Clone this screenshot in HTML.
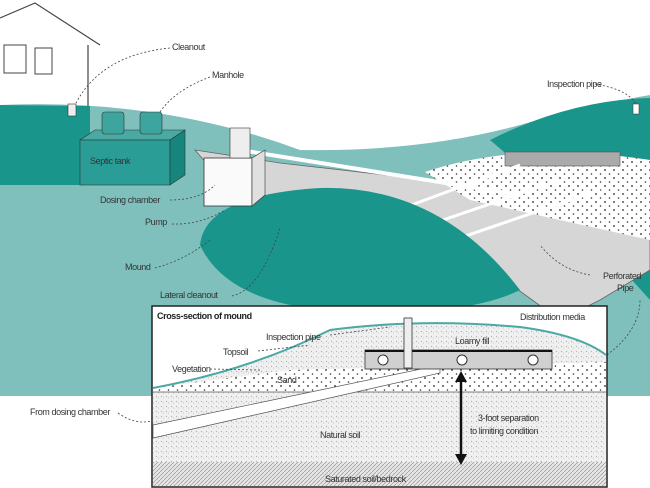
<!DOCTYPE html>
<html><head><meta charset="utf-8"><style>
html,body{margin:0;padding:0;background:#fff;width:650px;height:488px;overflow:hidden}
svg text{font-family:"Liberation Sans",sans-serif;font-size:9px;fill:#333;letter-spacing:-0.4px}
</style></head><body>
<svg width="650" height="488" viewBox="0 0 650 488" xmlns="http://www.w3.org/2000/svg">
<defs>
<pattern id="dots" width="9" height="8" patternUnits="userSpaceOnUse"><rect width="9" height="8" fill="#fff"/><circle cx="2" cy="2" r="0.9" fill="#222"/><circle cx="6.5" cy="6" r="0.8" fill="#333"/></pattern>
<pattern id="speck" width="5" height="5" patternUnits="userSpaceOnUse"><rect width="5" height="5" fill="#f0f0f0"/><path d="M1 1l1 1M3 3l1 0" stroke="#999" stroke-width="0.6"/></pattern>
<pattern id="hatch" width="4" height="4" patternUnits="userSpaceOnUse"><rect width="4" height="4" fill="#e6e6e6"/><path d="M0 4L4 0" stroke="#888" stroke-width="0.6"/></pattern>
</defs>
<path d="M0 105 Q160 98 300 150 Q420 152 520 125 Q590 105 650 95 L650 396 L0 396 Z" fill="#7fc0bd"/>
<path d="M0 105 L90 106 L90 185 L0 185 Z" fill="#1a958c"/>
<path d="M490 140 Q570 100 650 98 L650 300 L560 200 Z" fill="#1a958c"/>
<path d="M0 18 L35 3 L100 45 M88 45 L88 106" stroke="#444" stroke-width="1.2" fill="none"/>
<rect x="4" y="45" width="22" height="28" fill="none" stroke="#444"/>
<rect x="35" y="48" width="17" height="26" fill="none" stroke="#444"/>
<path d="M195 150 L280 163 L430 180 L540 158 L650 168 L650 270 L600 300 L560 320 L470 255 L330 215 L240 202 Z" fill="#d6d6d6" stroke="#666" stroke-width="0.8"/>
<path d="M425 172 Q520 140 650 160 L650 240 Q560 220 470 200 Z" fill="url(#dots)"/>
<rect x="505" y="152" width="115" height="14" fill="#aaa" stroke="#555" stroke-width="0.6"/>
<g stroke="#fff" stroke-width="3"><line x1="330" y1="235" x2="520" y2="165"/><line x1="370" y1="245" x2="560" y2="180"/><line x1="410" y1="255" x2="600" y2="190"/></g>
<line x1="240" y1="150" x2="520" y2="195" stroke="#fff" stroke-width="4"/>
<path d="M200 245 Q205 195 320 188 Q440 185 520 290 Q470 315 360 312 Q230 310 200 245 Z" fill="#1a958c"/>
<path d="M80 140 L95 130 L185 130 L170 140 Z" fill="#4aa9a2" stroke="#333" stroke-width="0.6"/>
<rect x="80" y="140" width="90" height="45" fill="#2a9e96" stroke="#333" stroke-width="0.6"/>
<path d="M170 140 L185 130 L185 175 L170 185Z" fill="#16857e" stroke="#333" stroke-width="0.6"/>
<rect x="102" y="112" width="22" height="22" rx="3" fill="#3da59d" stroke="#333" stroke-width="0.6"/>
<rect x="140" y="112" width="22" height="22" rx="3" fill="#3da59d" stroke="#333" stroke-width="0.6"/>
<rect x="68" y="104" width="8" height="12" fill="#eee" stroke="#333" stroke-width="0.6"/>
<rect x="204" y="158" width="48" height="48" fill="#fafafa" stroke="#333" stroke-width="0.8"/>
<path d="M252 158 L265 150 L265 195 L252 206Z" fill="#e0e0e0" stroke="#333" stroke-width="0.6"/>
<rect x="230" y="128" width="20" height="30" fill="#eee" stroke="#333" stroke-width="0.6"/>
<rect x="633" y="104" width="6" height="10" fill="#fff" stroke="#333" stroke-width="0.5"/>
<g stroke="#444" stroke-width="0.8" stroke-dasharray="2 2" fill="none">
<path d="M170 48 Q100 55 75 105"/><path d="M210 77 Q175 90 160 112"/><path d="M595 84 Q630 90 636 105"/>
<path d="M170 200 Q200 200 215 185"/><path d="M172 224 Q200 225 225 210"/><path d="M155 268 Q185 260 210 240"/>
<path d="M232 296 Q260 290 280 228"/><path d="M590 275 Q560 270 540 245"/><path d="M607 355 Q640 330 640 300"/>
<path d="M118 413 Q135 425 152 421"/>
</g>
<text x="172" y="50">Cleanout</text><text x="212" y="78">Manhole</text><text x="547" y="87">Inspection pipe</text>
<text x="90" y="164" fill="#133">Septic tank</text><text x="100" y="203">Dosing chamber</text><text x="145" y="225">Pump</text>
<text x="125" y="270">Mound</text><text x="160" y="298">Lateral cleanout</text><text x="603" y="279">Perforated</text><text x="617" y="291">Pipe</text>
<text x="30" y="415">From dosing chamber</text>
<rect x="152" y="306" width="455" height="181" fill="#fff" stroke="#222" stroke-width="1.5"/>
<path d="M153 392 L153 388 Q250 370 330 330 Q420 318 520 327 Q580 335 606 355 L606 392 Z" fill="url(#speck)"/>
<path d="M153 392 L153 388 Q250 375 290 370 L606 362 L606 392 Z" fill="url(#dots)"/>
<path d="M153 388 Q250 370 330 330 Q420 318 520 327 Q580 335 606 355" stroke="#4aa9a2" stroke-width="2" fill="none"/>
<rect x="153" y="392" width="453" height="70" fill="url(#speck)"/>
<line x1="153" y1="392" x2="606" y2="392" stroke="#555" stroke-width="0.8"/>
<rect x="153" y="462" width="453" height="24" fill="url(#hatch)"/>
<path d="M153 425 L440 365 L440 373 L153 438 Z" fill="#fff" stroke="#555" stroke-width="0.7"/>
<rect x="365" y="350" width="187" height="19" fill="#d0d0d0" stroke="#333" stroke-width="0.8"/>
<line x1="365" y1="351" x2="552" y2="351" stroke="#111" stroke-width="2"/>
<circle cx="383" cy="360" r="5" fill="#fff" stroke="#333"/><circle cx="462" cy="360" r="5" fill="#fff" stroke="#333"/><circle cx="533" cy="360" r="5" fill="#fff" stroke="#333"/>
<rect x="404" y="318" width="8" height="50" fill="#eee" stroke="#333" stroke-width="0.8"/>
<line x1="461" y1="380" x2="461" y2="456" stroke="#111" stroke-width="2.5"/>
<path d="M455 382 L461 371 L467 382Z M455 454 L461 465 L467 454Z" fill="#111"/>
<g stroke="#444" stroke-width="0.8" stroke-dasharray="2 2" fill="none">
<path d="M330 335 L390 327"/><path d="M258 351 L310 345"/><path d="M210 369 L260 370"/>
</g>
<text x="157" y="319" style="font-weight:bold;fill:#222">Cross-section of mound</text>
<text x="520" y="320">Distribution media</text><text x="266" y="340">Inspection pipe</text><text x="455" y="344">Loamy fill</text>
<text x="223" y="355">Topsoil</text><text x="172" y="372">Vegetation</text><text x="277" y="383">Sand</text>
<text x="478" y="421">3-foot separation</text><text x="470" y="434">to limiting condition</text>
<text x="320" y="438">Natural soil</text><text x="325" y="482">Saturated soil/bedrock</text>
</svg>
</body></html>
